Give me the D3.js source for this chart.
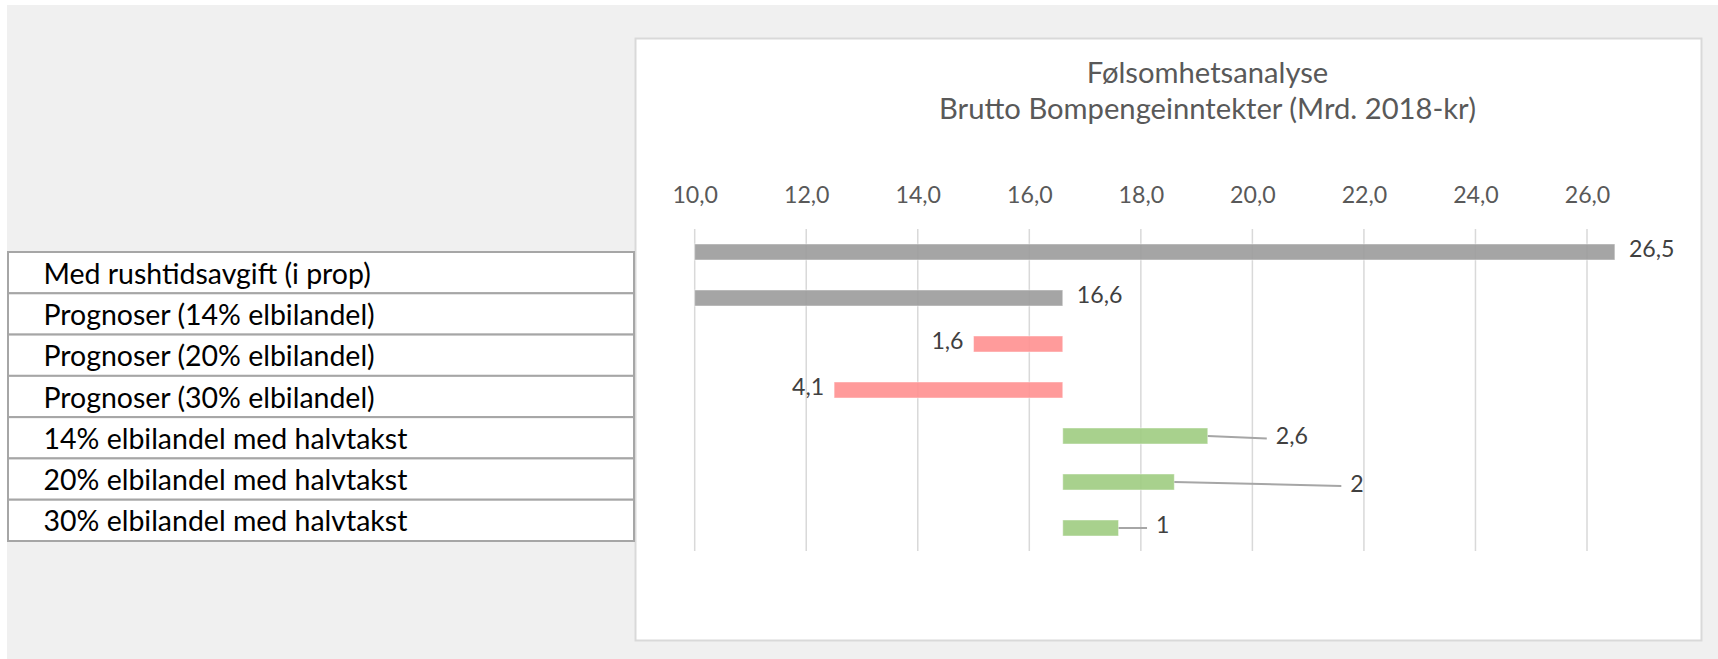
<!DOCTYPE html>
<html><head><meta charset="utf-8">
<script src="https://cdn.jsdelivr.net/npm/d3@7"></script>
<style>html,body{margin:0;padding:0;background:#fff;} svg{display:block;}</style>
</head><body><svg id="chart" width="1718" height="659"></svg>
<script>
// ---------- data ----------
const categories = [
  "Med rushtidsavgift (i prop)",
  "Prognoser (14% elbilandel)",
  "Prognoser (20% elbilandel)",
  "Prognoser (30% elbilandel)",
  "14% elbilandel med halvtakst",
  "20% elbilandel med halvtakst",
  "30% elbilandel med halvtakst"
];
const totals  = [26.5, 16.6, null, null, null, null, null];
const changes = [null, null, -1.6, -4.1, 2.6, 2.0, 1.0];
const changeBase = 16.6;
const axisMin = 10;
const axisMax = 26;
const tickValues = [10, 12, 14, 16, 18, 20, 22, 24, 26];
const titleLines = ["Følsomhetsanalyse", "Brutto Bompengeinntekter (Mrd. 2018-kr)"];

// ---------- layout / style ----------
const W = 1718, H = 659;
const FONT = "Lato, 'Open Sans', sans-serif";
// slightly deeper colours drawn at 90% opacity so the gridlines show faintly through
const colors = {total: "#9b9b9b", neg: "#ff9090", pos: "#9fcc81"};
const posLabelDx = [68, 176, 37.5];   // manual data-label placement for the leader-line labels
const posLabelDy = [3, 5, 0];

const svg = d3.select("#chart");
svg.append("rect").attr("x", 0).attr("y", 0).attr("width", W).attr("height", H).attr("fill", "#ffffff");
svg.append("rect").attr("x", 7).attr("y", 5).attr("width", W - 7).attr("height", H - 5).attr("fill", "#f0f0f0");

// chart box
svg.append("rect").attr("x", 635.5).attr("y", 38.5).attr("width", 1066).attr("height", 602)
  .attr("fill", "#ffffff").attr("stroke", "#d9d9d9").attr("stroke-width", 2);

// scales
const x = d3.scaleLinear().domain([axisMin, axisMax]).range([694.7, 1587]);
const pad = 30 / 46;
const y = d3.scaleBand().domain(categories).range([229, 551]).paddingInner(pad).paddingOuter(pad / 2);

const fmtNo = v => String(+v.toFixed(1)).replace(".", ",");
const fmtTick = v => d3.format(".1f")(v).replace(".", ",");

const bars = categories.map((c, i) => {
  if (totals[i] != null) return {cat: c, start: axisMin, end: totals[i], type: "total", label: fmtNo(totals[i])};
  const ch = changes[i];
  return {cat: c, start: Math.min(changeBase, changeBase + ch), end: Math.max(changeBase, changeBase + ch),
          type: ch < 0 ? "neg" : "pos", label: fmtNo(Math.abs(ch))};
});

// title
const title = svg.append("g").attr("fill", "#595959").attr("font-family", FONT).attr("text-anchor", "middle");
const t1 = title.append("text").attr("x", 1207.5).attr("y", 82.7).attr("font-size", 29).text(titleLines[0]);
const t2 = title.append("text").attr("x", 1207.5).attr("y", 119.3).attr("font-size", 29).text(titleLines[1]);

// axis labels on top
const axis = d3.axisTop(x).tickValues(tickValues).tickFormat(fmtTick).tickSize(0).tickPadding(0);
const gAxis = svg.append("g").attr("transform", "translate(0,202.5)").call(axis);
gAxis.select(".domain").remove();
gAxis.selectAll("text").attr("font-family", FONT).attr("font-size", 23).attr("fill", "#595959").attr("dy", 0);

// gridlines
svg.append("g").selectAll("line").data(tickValues).join("line")
  .attr("x1", d => x(d)).attr("x2", d => x(d)).attr("y1", 229).attr("y2", 551)
  .attr("stroke", "#d9d9d9").attr("stroke-width", 1.5);

// bars
const yc = d => y(d.cat) + y.bandwidth() / 2;
svg.append("g").selectAll("rect").data(bars).join("rect")
  .attr("x", d => x(d.start)).attr("y", d => y(d.cat))
  .attr("width", d => x(d.end) - x(d.start)).attr("height", y.bandwidth())
  .attr("fill", d => colors[d.type]).attr("fill-opacity", 0.9)
  .attr("stroke", "#ffffff").attr("stroke-opacity", 0.45).attr("stroke-width", 1);

// data labels
const labG = svg.append("g").attr("font-family", FONT).attr("font-size", 23).attr("fill", "#404040");
let pi = 0;
bars.forEach(d => {
  const cy = yc(d);
  if (d.type === "total") {
    labG.append("text").attr("x", x(d.end) + 14).attr("y", cy + 5).text(d.label);
  } else if (d.type === "neg") {
    labG.append("text").attr("x", x(d.start) - 10).attr("y", cy + 5).attr("text-anchor", "end").text(d.label);
  } else {
    const lx = x(d.end) + posLabelDx[pi], dy = posLabelDy[pi];
    svg.append("line").attr("x1", x(d.end)).attr("y1", cy).attr("x2", lx - 9).attr("y2", cy + dy * 0.8)
      .attr("stroke", "#a6a6a6").attr("stroke-width", 2);
    labG.append("text").attr("x", lx).attr("y", cy + dy + 5).text(d.label);
    pi++;
  }
});

// left table
const rowTop = 252, rowBot = 541, rowH = (rowBot - rowTop) / categories.length;
const tbl = svg.append("g");
tbl.selectAll("rect").data(categories).join("rect")
  .attr("x", 8).attr("y", (d, i) => rowTop + i * rowH).attr("width", 626).attr("height", rowH)
  .attr("fill", "#ffffff").attr("stroke", "#a6a6a6").attr("stroke-width", 2);
const tLabels = tbl.selectAll("text").data(categories).join("text")
  .attr("x", 43.5).attr("y", (d, i) => rowTop + i * rowH + rowH / 2 + 11)
  .attr("font-family", FONT).attr("font-size", 28.4).attr("fill", "#000").text(d => d);

// fit font sizes to the reference text widths
function fit(sel, refNode, target) {
  const w = refNode.getComputedTextLength();
  const fs = parseFloat(d3.select(refNode).attr("font-size"));
  sel.attr("font-size", fs * target / w);
}
fit(tLabels, tLabels.nodes()[6], 364);
fit(title.selectAll("text"), t2.node(), 537);
fit(gAxis.selectAll("text"), gAxis.selectAll("text").nodes()[0], 45.6);
labG.selectAll("text").attr("font-size", gAxis.select("text").attr("font-size"));
</script></body></html>
